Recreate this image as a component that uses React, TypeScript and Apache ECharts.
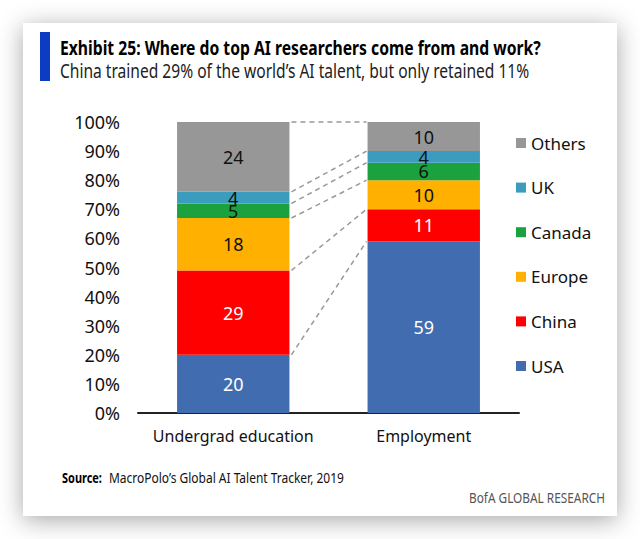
import React, { useEffect, useRef } from "react";
import * as echarts from "echarts";

const categories = ["Undergrad education", "Employment"];
const seriesNames = ["USA", "China", "Europe", "Canada", "UK", "Others"];
const undergrad = [20, 29, 18, 5, 4, 24];
const employment = [59, 11, 10, 6, 4, 10];
const colors = ["#416DB0", "#FF0000", "#FFB000", "#1BA23E", "#3B9CBE", "#979797"];
const labelColors = ["#FFFFFF", "#FFFFFF", "#111111", "#111111", "#111111", "#111111"];
const yTicks = [0, 10, 20, 30, 40, 50, 60, 70, 80, 90, 100];

const FONT = "'Noto Sans', sans-serif";
const BAR_RATIO = 0.59;

function fitScale(text: string, font: string, target: number): number {
  const c = document.createElement("canvas").getContext("2d");
  if (!c) return 1;
  c.font = font;
  const w = c.measureText(text).width;
  return w > 0 ? target / w : 1;
}

function cumulative(arr: number[]): number[] {
  const out: number[] = [];
  let s = 0;
  for (const v of arr) {
    s += v;
    out.push(s);
  }
  return out;
}

export default function App() {
  const ref = useRef<HTMLDivElement>(null);
  useEffect(() => {
    document.body.style.margin = "0";
    if (!ref.current) return;
    const chart = echarts.init(ref.current, undefined, { renderer: "svg" });

    const title = "Exhibit 25: Where do top AI researchers come from and work?";
    const subtitle = "China trained 29% of the world\u2019s AI talent, but only retained 11%";
    const srcBold = "Source:";
    const srcText = "MacroPolo\u2019s Global AI Talent Tracker, 2019";
    const bofa = "BofA GLOBAL RESEARCH";

    const tFont = `bold 20px ${FONT}`;
    const sFont = `20px ${FONT}`;
    const smB = `bold 14px ${FONT}`;
    const sm = `14px ${FONT}`;

    const cumL = cumulative(undergrad);
    const cumR = cumulative(employment);
    const connectors = cumL.map((v, i) => [0, v, cumR[i]]);

    const barSeries = seriesNames.map((name, i) => ({
      name,
      type: "bar",
      stack: "total",
      barWidth: BAR_RATIO * 100 + "%",
      itemStyle: { color: colors[i] },
      label: {
        show: true,
        position: "inside",
        color: labelColors[i],
        fontSize: 18,
        fontFamily: FONT,
      },
      data: [undergrad[i], employment[i]],
    }));

    const option: any = {
      animation: false,
      backgroundColor: "transparent",
      graphic: [
        {
          type: "rect",
          shape: { x: 23, y: 23, width: 594, height: 493 },
          style: {
            fill: "#FFFFFF",
            shadowBlur: 24,
            shadowColor: "rgba(0,0,0,0.35)",
            shadowOffsetY: 4,
          },
          z: -10,
          silent: true,
        },
        {
          type: "rect",
          shape: { x: 40, y: 32, width: 10, height: 49 },
          style: { fill: "#0B3CC1" },
          silent: true,
        },
        {
          type: "text",
          x: 60,
          y: 47,
          scaleX: fitScale(title, tFont, 481),
          style: {
            text: title,
            fontSize: 20,
            fontWeight: "bold",
            fontFamily: FONT,
            fill: "#000000",
            textVerticalAlign: "middle",
          },
        },
        {
          type: "text",
          x: 60,
          y: 70,
          scaleX: fitScale(subtitle, sFont, 470),
          style: {
            text: subtitle,
            fontSize: 20,
            fontFamily: FONT,
            fill: "#222222",
            textVerticalAlign: "middle",
          },
        },
        {
          type: "text",
          x: 62,
          y: 478,
          scaleX: fitScale(srcBold, smB, 40),
          style: {
            text: srcBold,
            fontSize: 14,
            fontWeight: "bold",
            fontFamily: FONT,
            fill: "#000000",
            textVerticalAlign: "middle",
          },
        },
        {
          type: "text",
          x: 109,
          y: 478,
          scaleX: fitScale(srcText, sm, 235),
          style: {
            text: srcText,
            fontSize: 14,
            fontFamily: FONT,
            fill: "#111111",
            textVerticalAlign: "middle",
          },
        },
        {
          type: "text",
          x: 469,
          y: 498,
          scaleX: fitScale(bofa, sm, 136),
          style: {
            text: bofa,
            fontSize: 14,
            fontFamily: FONT,
            fill: "#555555",
            textVerticalAlign: "middle",
          },
        },
      ],
      grid: { left: 138, right: 121, top: 122, bottom: 126, containLabel: false },
      legend: {
        orient: "vertical",
        left: 516,
        top: 133,
        padding: 0,
        data: seriesNames.slice().reverse(),
        icon: "rect",
        itemWidth: 10,
        itemHeight: 10,
        itemGap: 24.6,
        textStyle: { fontSize: 17, fontFamily: FONT, color: "#111111", lineHeight: 20 },
        selectedMode: false,
      },
      xAxis: {
        type: "category",
        data: categories,
        axisLine: { show: true, lineStyle: { color: "#222222", width: 2 } },
        axisTick: { show: false },
        axisLabel: { interval: 0, fontSize: 16, fontFamily: FONT, color: "#111111", margin: 15 },
      },
      yAxis: {
        type: "value",
        min: yTicks[0],
        max: yTicks[yTicks.length - 1],
        interval: 10,
        axisLine: { show: false },
        axisTick: { show: false },
        splitLine: { show: false },
        axisLabel: {
          formatter: "{value}%",
          fontSize: 18,
          fontFamily: FONT,
          color: "#111111",
          margin: 18,
        },
      },
      series: [
        ...barSeries,
        {
          type: "custom",
          coordinateSystem: "cartesian2d",
          silent: true,
          encode: { x: 0, y: 1 },
          data: connectors,
          renderItem: (params: any, api: any) => {
            const l = api.value(1);
            const r = api.value(2);
            const p0 = api.coord([0, l]);
            const p1 = api.coord([1, r]);
            const half = (api.size([1, 0])[0] * BAR_RATIO) / 2;
            return {
              type: "line",
              shape: { x1: p0[0] + half + 2, y1: p0[1], x2: p1[0] - half - 1, y2: p1[1] },
              style: { stroke: "#999999", lineWidth: 1.5, lineDash: [5, 4] },
            };
          },
        },
      ],
    };
    chart.setOption(option);
    return () => chart.dispose();
  }, []);
  return <div ref={ref} style={{ width: 640, height: 539 }} />;
}
